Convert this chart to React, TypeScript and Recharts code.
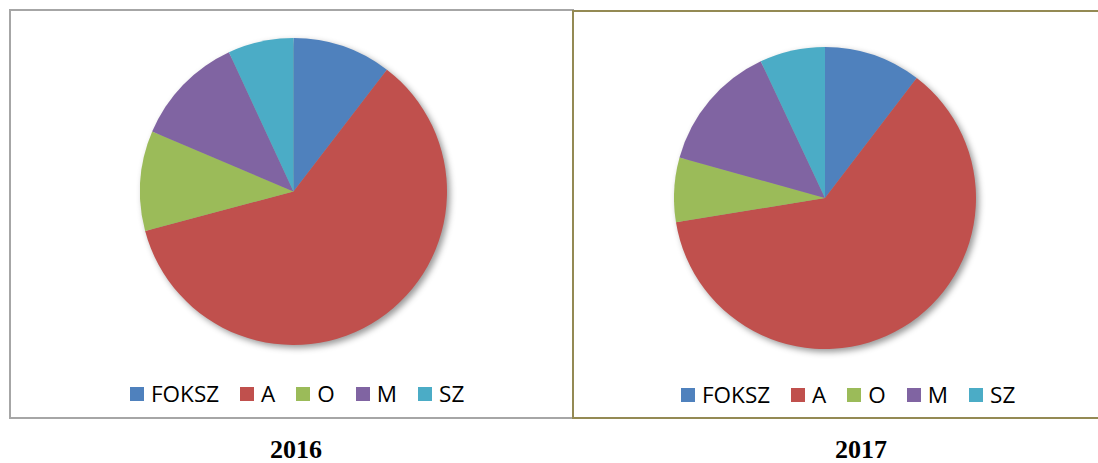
import { PieChart, Pie, Cell, Legend } from "recharts"

const CATEGORIES = ["FOKSZ", "A", "O", "M", "SZ"]
const VALUES_2016 = [10.4, 60.4, 10.5, 11.7, 6.9]
const VALUES_2017 = [10.4, 62.1, 6.9, 13.7, 7.0]
const YEARS = ["2016", "2017"]

const COLORS = ["#4F81BD", "#C0504D", "#9BBB59", "#8064A2", "#4BACC6"]

const toData = (values: number[]) =>
    CATEGORIES.map((name, i) => ({ name, value: values[i] }))

function LegendRow({ offset }: { offset: number }) {
    return (
        <div
            style={{
                display: "flex",
                alignItems: "center",
                height: 26,
                paddingLeft: offset,
                fontFamily: "'Open Sans', sans-serif",
                fontSize: 22.5,
                color: "#000",
                whiteSpace: "nowrap",
            }}
        >
            {CATEGORIES.map((name, i) => (
                <div key={name} style={{ display: "flex", alignItems: "center", marginRight: 21 }}>
                    <span style={{ width: 14, height: 14, background: COLORS[i], marginRight: 7, display: "inline-block" }} />
                    <span style={{ lineHeight: "26px" }}>{name}</span>
                </div>
            ))}
        </div>
    )
}

interface PanelProps {
    values: number[]
    cx: number
    cy: number
    radius: number
    legendOffset: number
}

function YearPie({ values, cx, cy, radius, legendOffset }: PanelProps) {
    const data = toData(values)
    return (
        <PieChart width={560} height={406} margin={{ top: 0, right: 0, bottom: 0, left: 0 }}>
            <Pie
                data={data}
                dataKey="value"
                nameKey="name"
                cx={cx}
                cy={cy}
                outerRadius={radius}
                startAngle={90}
                endAngle={-270}
                stroke="none"
                isAnimationActive={false}
            >
                {data.map((entry, index) => (
                    <Cell key={`cell-${entry.name}`} fill={COLORS[index % COLORS.length]} />
                ))}
            </Pie>
            <Legend
                verticalAlign="bottom"
                align="left"
                wrapperStyle={{ top: 370, left: 0, width: 560, height: 26 }}
                content={() => <LegendRow offset={legendOffset} />}
            />
        </PieChart>
    )
}

export default function App() {
    return (
        <div
            style={{
                position: "fixed",
                left: 0,
                top: 0,
                width: 1098,
                height: 463,
                overflow: "hidden",
                background: "#fff",
            }}
        >
            <style>{`.recharts-pie { filter: drop-shadow(3px 3px 3px rgba(0,0,0,0.4)); }`}</style>
            <div
                style={{
                    position: "absolute",
                    left: 9,
                    top: 9,
                    width: 565,
                    height: 410,
                    border: "2px solid #a6a6a6",
                    boxSizing: "border-box",
                }}
            >
                <YearPie values={VALUES_2016} cx={282.5} cy={180.5} radius={153.5} legendOffset={119} />
            </div>
            <div
                style={{
                    position: "absolute",
                    left: 572,
                    top: 10,
                    width: 560,
                    height: 409,
                    border: "2px solid #948A54",
                    boxSizing: "border-box",
                }}
            >
                <YearPie values={VALUES_2017} cx={251} cy={186} radius={151} legendOffset={107} />
            </div>
            {YEARS.map((year, i) => (
                <div
                    key={year}
                    style={{
                        position: "absolute",
                        left: i === 0 ? 196 : 761,
                        width: 200,
                        top: 437,
                        textAlign: "center",
                        fontFamily: "'Liberation Serif', 'Times New Roman', serif",
                        fontWeight: "bold",
                        fontSize: 26,
                        lineHeight: "26px",
                    }}
                >
                    {year}
                </div>
            ))}
        </div>
    )
}
